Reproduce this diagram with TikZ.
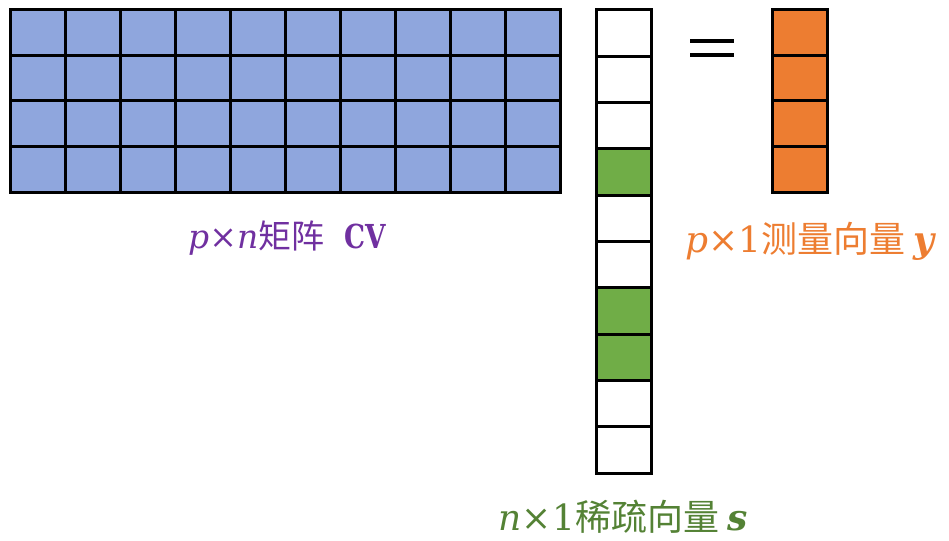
\documentclass[tikz,border=0pt]{standalone}
\usepackage{fontspec}
\newfontfamily\cjk{Noto Sans CJK SC}
\newfontfamily\dvs{DejaVu Serif}
\definecolor{cvblue}{HTML}{8FA6DD}
\definecolor{sgreen}{HTML}{70AD47}
\definecolor{yorange}{HTML}{ED7D31}
\definecolor{tpurple}{HTML}{7030A0}
\definecolor{tgreen}{HTML}{548235}
\newcommand{\vi}[1]{{\dvs\itshape #1}}
\newcommand{\vb}[1]{{\dvs\bfseries\itshape #1}}
\newcommand{\tms}{{\dvs ×}}
\begin{document}
\begin{tikzpicture}[x=1pt,y=-1pt,
  cell/.style={draw=black,line width=3pt},
  lblsmall/.style={inner sep=0pt,font=\fontsize{33}{39}\selectfont},
  lbl/.style={inner sep=0pt,font=\fontsize{36}{43}\selectfont}]
\useasboundingbox (0,0) rectangle (949,540);
% matrix CV
\foreach \i in {0,...,9}{
  \foreach \j in {0,...,3}{
    \filldraw[cell,fill=cvblue] ({10+55*\i},{10+45.5*\j}) rectangle ++(55,45.5);
  }
}
% vector s
\foreach \j in {0,...,9}{
  \filldraw[cell,fill=white] (596,{10+46.3*\j}) rectangle ++(55,46.3);
}
\foreach \j in {3,6,7}{
  \filldraw[cell,fill=sgreen] (596,{10+46.3*\j}) rectangle ++(55,46.3);
}
% vector y
\foreach \j in {0,...,3}{
  \filldraw[cell,fill=yorange] (772,{10+45.5*\j}) rectangle ++(55,45.5);
}
% equals sign
\fill (690,39) rectangle (734,43.5);
\fill (690,53) rectangle (734,57.5);
% labels
\node[lblsmall,text=tpurple] (lcv) at (287,238) {\vi{p}\tms\vi{n}{\cjk 矩阵}\hspace{20pt}\scalebox{0.8}[1]{\dvs\bfseries CV}};
\node[lbl,text=yorange] (ly) at (810,241) {\vi{p}\tms{\dvs 1}{\cjk 测量向量}\hspace{8pt}\vb{y}};
\node[lbl,text=tgreen] (ls) at (623,517) {\vi{n}\tms{\dvs 1}{\cjk 稀疏向量}\hspace{8pt}\vb{s}};
\end{tikzpicture}
\end{document}
